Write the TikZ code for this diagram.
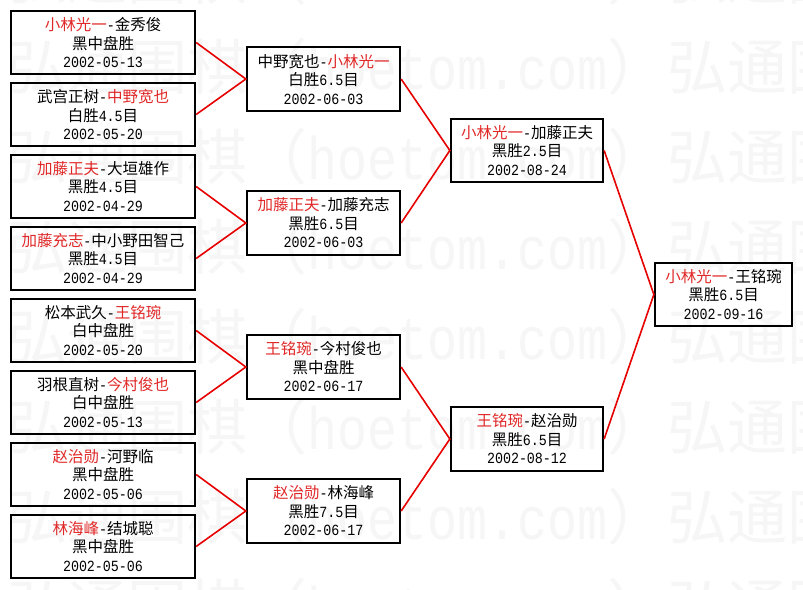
\documentclass[tikz,border=0pt]{standalone}
\usepackage{fontspec}
\setmainfont{Liberation Mono}
\newfontfamily\cjkf{Noto Sans CJK SC}
\newfontfamily\digf{Liberation Mono}[FakeStretch=0.86]
\newfontfamily\wmmono{Liberation Mono}[FakeStretch=0.8333]
\definecolor{winred}{RGB}{225,40,40}
\definecolor{linered}{RGB}{230,0,0}
\definecolor{wm}{RGB}{246,246,246}
\newcommand\win[1]{{\color{winred}#1}}
\newcommand\dig[1]{{\digf #1}}
\newcommand\wmtext{{\cjkf 弘通围棋（}{\wmmono hoetom.com}{\cjkf ）}}
\tikzset{
  game/.style={draw=black, line width=1.8pt, align=center, inner sep=0pt,
    font=\cjkf\fontsize{15.5}{18.5}\selectfont, minimum height=63.5pt},
  colA/.style={game, minimum width=184.5pt},
  colB/.style={game, minimum width=153.5pt},
  colC/.style={game, minimum width=152.5pt},
  colD/.style={game, minimum width=137.5pt},
  link/.style={draw=linered, line width=1.6pt},
  wmark/.style={anchor=west, inner sep=0pt, text=wm, font=\fontsize{60}{60}\selectfont}
}
\begin{document}
\begin{tikzpicture}[x=1pt,y=-1pt]
\useasboundingbox (0,0) rectangle (803,589);
\fill[white] (0,0) rectangle (803,589);
\begin{scope}
\clip (0,0) rectangle (803,589);
\foreach \yy in {-23,67,157,247,337,427,517,607}{
  \node[wmark] at (7,\yy) {\wmtext\wmtext};
}
\end{scope}
% first round
\node[colA] (a1) at (103,42.5) {\win{小林光一}\dig{-}金秀俊\\黑中盘胜\\\dig{2002-05-13}};
\node[colA] (a2) at (103,114.5) {武宫正树\dig{-}\win{中野宽也}\\白胜\dig{4.5}目\\\dig{2002-05-20}};
\node[colA] (a3) at (103,186.5) {\win{加藤正夫}\dig{-}大垣雄作\\黑胜\dig{4.5}目\\\dig{2002-04-29}};
\node[colA] (a4) at (103,258.5) {\win{加藤充志}\dig{-}中小野田智己\\黑胜\dig{4.5}目\\\dig{2002-04-29}};
\node[colA] (a5) at (103,330.5) {松本武久\dig{-}\win{王铭琬}\\白中盘胜\\\dig{2002-05-20}};
\node[colA] (a6) at (103,402.5) {羽根直树\dig{-}\win{今村俊也}\\白中盘胜\\\dig{2002-05-13}};
\node[colA] (a7) at (103,474.5) {\win{赵治勋}\dig{-}河野临\\黑中盘胜\\\dig{2002-05-06}};
\node[colA] (a8) at (103,546.5) {\win{林海峰}\dig{-}结城聪\\黑中盘胜\\\dig{2002-05-06}};
% second round
\node[colB] (b1) at (323.5,79) {中野宽也\dig{-}\win{小林光一}\\白胜\dig{6.5}目\\\dig{2002-06-03}};
\node[colB] (b2) at (323.5,223) {\win{加藤正夫}\dig{-}加藤充志\\黑胜\dig{6.5}目\\\dig{2002-06-03}};
\node[colB] (b3) at (323.5,367) {\win{王铭琬}\dig{-}今村俊也\\黑中盘胜\\\dig{2002-06-17}};
\node[colB] (b4) at (323.5,511) {\win{赵治勋}\dig{-}林海峰\\黑胜\dig{7.5}目\\\dig{2002-06-17}};
% semi final
\node[colC] (c1) at (527,150.5) {\win{小林光一}\dig{-}加藤正夫\\黑胜\dig{2.5}目\\\dig{2002-08-24}};
\node[colC] (c2) at (527,439) {\win{王铭琬}\dig{-}赵治勋\\黑胜\dig{6.5}目\\\dig{2002-08-12}};
% final
\node[colD] (d1) at (723.5,294.5) {\win{小林光一}\dig{-}王铭琬\\黑胜\dig{6.5}目\\\dig{2002-09-16}};
% links
\draw[link] (a1.east) -- (b1.west) -- (a2.east);
\draw[link] (a3.east) -- (b2.west) -- (a4.east);
\draw[link] (a5.east) -- (b3.west) -- (a6.east);
\draw[link] (a7.east) -- (b4.west) -- (a8.east);
\draw[link] (b1.east) -- (c1.west) -- (b2.east);
\draw[link] (b3.east) -- (c2.west) -- (b4.east);
\draw[link] (c1.east) -- (d1.west) -- (c2.east);
\end{tikzpicture}
\end{document}
